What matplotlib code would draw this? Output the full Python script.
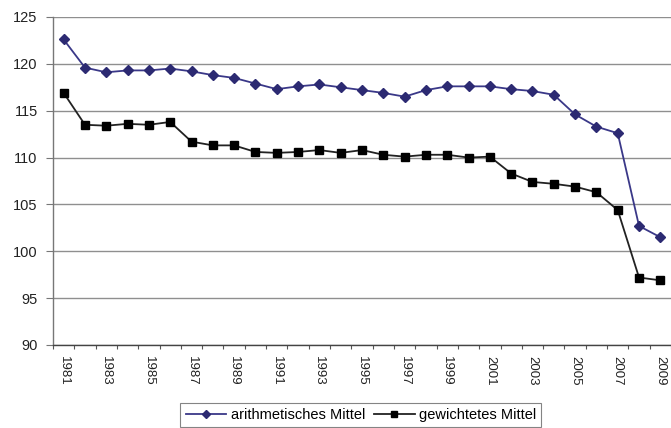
import numpy as np
import matplotlib
matplotlib.use("Agg")
import matplotlib.pyplot as plt
from matplotlib.ticker import FixedLocator, NullFormatter

plt.rcParams['font.family'] = ['Liberation Sans', 'DejaVu Sans']

# Jahre und Reihen
years = list(range(1981, 2010))
arith_mittel = [122.6, 119.6, 119.1, 119.3, 119.3, 119.5, 119.2, 118.8, 118.5, 117.9,
                117.3, 117.6, 117.8, 117.5, 117.2, 116.9, 116.5, 117.2, 117.6, 117.6,
                117.6, 117.3, 117.1, 116.7, 114.6, 113.3, 112.6, 102.7, 101.5]
gew_mittel = [116.9, 113.5, 113.4, 113.6, 113.5, 113.8, 111.7, 111.3, 111.3, 110.6,
              110.5, 110.6, 110.8, 110.5, 110.8, 110.3, 110.1, 110.3, 110.3, 110.0,
              110.1, 108.3, 107.4, 107.2, 106.9, 106.3, 104.4, 97.2, 96.9]
y_ticks = [90, 95, 100, 105, 110, 115, 120, 125]
label_years = years[::2]

fig = plt.figure(figsize=(6.71, 4.28), dpi=100)
ax = fig.add_axes([53 / 671, 1 - 345 / 428, 1 - 53 / 671, (345 - 17) / 428])

x = np.arange(len(years))
ax.plot(x, arith_mittel, color='#3a3888', lw=1.3, marker='D', ms=5,
        mfc='#2c2a72', mec='#2c2a72', label='arithmetisches Mittel', zorder=3)
ax.plot(x, gew_mittel, color='#222222', lw=1.3, marker='s', ms=6.2,
        mfc='black', mec='black', label='gewichtetes Mittel', zorder=3)

ax.set_xlim(-0.5, len(years) - 0.5)
ax.set_ylim(90, 125)
ax.set_yticks(y_ticks)
ax.set_yticklabels([str(v) for v in y_ticks], fontsize=10.5, color='#222222')
ax.yaxis.grid(True, color='#8f8f8f', lw=1.0)
ax.set_axisbelow(True)

# Kategorienachse: Striche zwischen den Jahren, Beschriftung jedes zweite Jahr
ax.xaxis.set_major_locator(FixedLocator(np.arange(-0.5, len(years), 1.0)))
ax.xaxis.set_major_formatter(NullFormatter())
ax.xaxis.set_minor_locator(FixedLocator([years.index(y) for y in label_years]))
ax.set_xticklabels([str(y) for y in label_years], minor=True, rotation=-90,
                   fontsize=9.5, color='#222222')
ax.tick_params(axis='x', which='major', length=3, width=0.8, color='#555555', direction='out')
ax.tick_params(axis='x', which='minor', length=0, pad=8)
ax.tick_params(axis='y', length=5, width=0.8, color='#777777', pad=6)

for side in ['top', 'right']:
    ax.spines[side].set_visible(False)
ax.spines['left'].set_color('#777777')
ax.spines['bottom'].set_color('#444444')
ax.spines['left'].set_linewidth(1.0)
ax.spines['bottom'].set_linewidth(1.0)

leg = fig.legend(loc='upper center', bbox_to_anchor=(0.538, 0.075), ncol=2,
                 frameon=True, fancybox=False, fontsize=10.5, handlelength=2.8,
                 markerscale=0.75, columnspacing=0.6, handletextpad=0.3,
                 borderpad=0.35, edgecolor='#666666')
leg.get_frame().set_linewidth(0.8)

fig.savefig('out.png', dpi=100, facecolor='white')
